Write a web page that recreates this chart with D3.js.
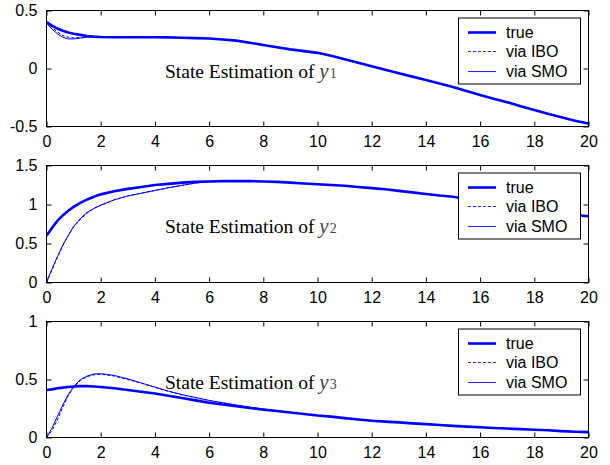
<!DOCTYPE html>
<html><head><meta charset="utf-8">
<script src="https://cdn.jsdelivr.net/npm/d3@7"></script>
<style>
html,body{margin:0;padding:0;background:#fff;}
svg{display:block;}
.tick text{font-family:"Liberation Sans",Arial,sans-serif;font-size:16px;fill:#000;}
</style></head>
<body><svg id="chart" width="610" height="465"></svg>
<script>
// ---- data ----
const timeFull = [0,0.2,0.4,0.6,0.8,1,1.25,1.5,1.75,2,2.5,3,3.5,4,4.5,5,5.5,6,6.5,7,7.5,8,8.5,9,9.5,10,10.5,11,11.5,12,12.5,13,13.5,14,14.5,15,15.5,16,16.5,17,17.5,18,18.5,19,19.5,20];
const xTicks = [0,2,4,6,8,10,12,14,16,18,20];
const seriesNames = ["true","via IBO","via SMO"];

// y1
const y1True = [0.40,0.37,0.345,0.325,0.31,0.30,0.29,0.28,0.275,0.272,0.27,0.27,0.27,0.27,0.268,0.265,0.262,0.258,0.25,0.24,0.222,0.203,0.183,0.165,0.15,0.135,0.11,0.08,0.05,0.02,-0.01,-0.04,-0.07,-0.10,-0.13,-0.16,-0.195,-0.228,-0.26,-0.29,-0.325,-0.357,-0.39,-0.42,-0.45,-0.475];
const y1IBO  = [0.40,0.355,0.315,0.285,0.27,0.265,0.268,0.273,0.274,0.272,0.27];
const y1SMO  = [0.39,0.34,0.30,0.27,0.255,0.255,0.262,0.27,0.273,0.272,0.27];
const y1Ticks = [-0.5,0,0.5];

// y2
const y2True = [0.60,0.70,0.79,0.86,0.92,0.97,1.02,1.065,1.10,1.13,1.17,1.20,1.225,1.25,1.265,1.28,1.29,1.295,1.30,1.30,1.30,1.295,1.29,1.28,1.27,1.26,1.25,1.24,1.225,1.21,1.195,1.175,1.155,1.135,1.115,1.10,1.07,1.04,1.01,0.98,0.955,0.93,0.90,0.88,0.865,0.85];
const y2IBO  = [0,0.16,0.32,0.47,0.60,0.71,0.81,0.89,0.95,0.99,1.06,1.11,1.145,1.18,1.215,1.245,1.275,1.295];
const y2SMO  = [0,0.17,0.33,0.48,0.60,0.72,0.82,0.90,0.95,0.99,1.06,1.11,1.145,1.18,1.215,1.245,1.275,1.295];
const y2Ticks = [0,0.5,1,1.5];

// y3
const y3True = [0.41,0.415,0.425,0.43,0.435,0.44,0.443,0.443,0.44,0.435,0.425,0.41,0.395,0.38,0.36,0.34,0.32,0.30,0.285,0.27,0.255,0.24,0.228,0.215,0.203,0.19,0.18,0.167,0.155,0.145,0.137,0.13,0.122,0.115,0.108,0.10,0.094,0.088,0.082,0.077,0.072,0.067,0.062,0.055,0.05,0.046];
const y3IBO  = [0,0.06,0.15,0.26,0.36,0.43,0.49,0.525,0.54,0.545,0.53,0.50,0.468,0.432,0.398,0.368,0.343,0.318,0.298,0.278,0.26,0.244,0.23];
const y3SMO  = [0,0.08,0.18,0.28,0.37,0.44,0.50,0.53,0.548,0.55,0.535,0.505,0.47,0.435,0.40,0.37,0.345,0.32,0.30,0.28,0.262,0.245,0.23];
const y3Ticks = [0,0.5,1];

const panels = [
  {top:10.5, bottom:126.5, domain:[-0.5,0.5], ticks:y1Ticks, tru:y1True, ibo:y1IBO, smo:y1SMO, sub:"1"},
  {top:165.5, bottom:282.5, domain:[0,1.5], ticks:y2Ticks, tru:y2True, ibo:y2IBO, smo:y2SMO, sub:"2"},
  {top:321.5, bottom:437.5, domain:[0,1], ticks:y3Ticks, tru:y3True, ibo:y3IBO, smo:y3SMO, sub:"3"}
];

const svg = d3.select("#chart");
const left = 46.5, right = 588.5;
const x = d3.scaleLinear().domain([0,20]).range([left,right]);
const blue = "#0000ff";
const fmt = d => (d===0?"0":String(d));

panels.forEach(p => {
  const y = d3.scaleLinear().domain(p.domain).range([p.bottom,p.top]);
  const g = svg.append("g");
  const clipId = "clip"+p.sub;
  svg.append("clipPath").attr("id",clipId).append("rect")
    .attr("x",left).attr("y",p.top-2).attr("width",right-left+1).attr("height",p.bottom-p.top+4);

  const axB = d3.axisBottom(x).tickValues(xTicks).tickSizeInner(-5).tickSizeOuter(0).tickPadding(9).tickFormat(fmt);
  const axT = d3.axisTop(x).tickValues(xTicks).tickSizeInner(-5).tickSizeOuter(0).tickFormat("");
  const axL = d3.axisLeft(y).tickValues(p.ticks).tickSizeInner(-5).tickSizeOuter(0).tickPadding(9).tickFormat(fmt);
  const axR = d3.axisRight(y).tickValues(p.ticks).tickSizeInner(-5).tickSizeOuter(0).tickFormat("");
  g.append("g").attr("transform",`translate(0,${p.bottom})`).call(axB);
  g.append("g").attr("transform",`translate(0,${p.top})`).call(axT);
  g.append("g").attr("transform",`translate(${left},0)`).call(axL);
  g.append("g").attr("transform",`translate(${right},0)`).call(axR);
  g.selectAll(".domain").remove();
  g.selectAll(".tick line").attr("stroke","#000");

  const line = (ts, vs) => d3.line().x((d,i)=>x(ts[i])).y(d=>y(d))(vs);
  const lg = svg.append("g").attr("clip-path",`url(#${clipId})`);
  lg.append("path").attr("d",line(timeFull,p.tru)).attr("fill","none").attr("stroke",blue).attr("stroke-width",2.6);
  lg.append("path").attr("d",line(timeFull,p.smo)).attr("fill","none").attr("stroke",blue).attr("stroke-width",1);
  lg.append("path").attr("d",line(timeFull,p.ibo)).attr("fill","none").attr("stroke",blue).attr("stroke-width",1).attr("stroke-dasharray","3,2");

  svg.append("rect").attr("x",left).attr("y",p.top).attr("width",right-left).attr("height",p.bottom-p.top)
    .attr("fill","none").attr("stroke","#000").attr("stroke-width",1);

  const t = svg.append("text").attr("x",165).attr("y",p.top+67.5)
    .attr("font-family","'Liberation Serif','Times New Roman',serif").attr("font-size",19.5).attr("fill","#000");
  t.append("tspan").text("State Estimation of ");
  t.append("tspan").attr("font-style","italic").attr("font-size",21).attr("fill","#444").text("y");
  t.append("tspan").attr("font-size",14).attr("fill","#444").attr("dx",1).text(p.sub);

  const lgX = 458.5, lgY = p.top+7.5;
  const leg = svg.append("g");
  leg.append("rect").attr("x",lgX).attr("y",lgY).attr("width",122).attr("height",66)
    .attr("fill","#fff").attr("stroke","#000").attr("stroke-width",1);
  seriesNames.forEach((n,i) => {
    const cy = Math.floor(lgY + 14 + i*19.5) + 0.5;
    leg.append("line").attr("x1",468).attr("x2",496).attr("y1",cy).attr("y2",cy)
      .attr("stroke",i===0?blue:"#2a2aff").attr("stroke-width", i===0?2.6:1.1)
      .attr("stroke-dasharray", i===1?"3,2":null);
    leg.append("text").attr("x",506).attr("y",cy+5.5)
      .attr("font-family","'Liberation Sans',Arial,sans-serif").attr("font-size",16).attr("fill","#000").text(n);
  });
});
</script></body></html>
